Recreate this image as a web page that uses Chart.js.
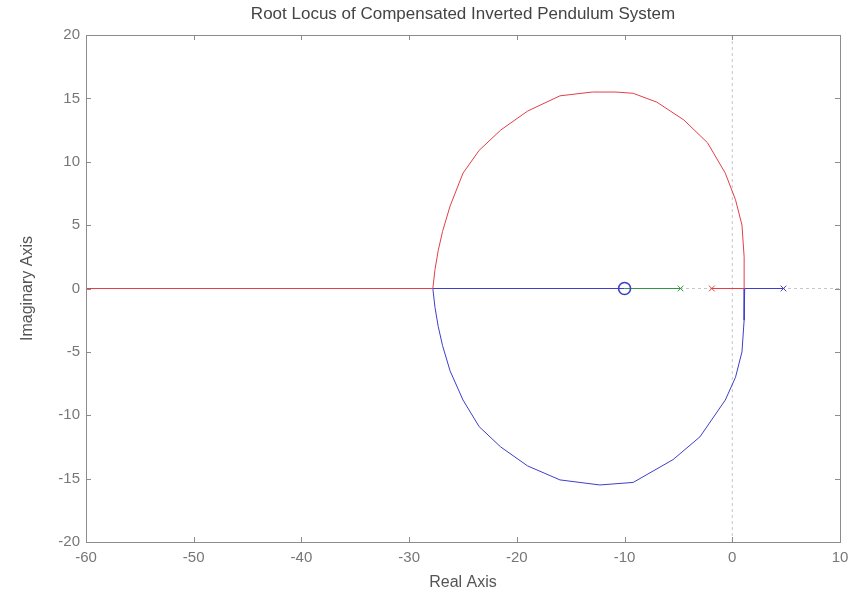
<!DOCTYPE html>
<html>
<head>
<meta charset="utf-8">
<title>Root Locus</title>
<script src="https://cdn.jsdelivr.net/npm/chart.js@4.4.0/dist/chart.umd.min.js"></script>
<style>
  html, body { margin: 0; padding: 0; background: #fff; }
  #lienzo { display: block; }
</style>
</head>
<body>
<canvas id="lienzo" width="857" height="598"></canvas>
<script>
// Rangos de los ejes
const ejeReal = [-60, 10];
const ejeImag = [-20, 20];
const pasoReal = 10;
const pasoImag = 5;

// Rama roja: sale del polo en -1.9, sube por el arco superior y se va a -inf
const rojaRe = [-1.9, 1.15, 1.1, 0.9, 0.3, -0.65, -2.3, -4.5, -7.0, -9.2, -10.8, -13.0, -16.0, -19.0, -21.5, -23.5, -25.0, -26.2, -26.9, -27.3, -27.6, -27.8, -60];
const rojaIm = [0, 0, 2.5, 5.0, 7.0, 9.1, 11.5, 13.3, 14.7, 15.4, 15.5, 15.5, 15.2, 14.0, 12.5, 10.9, 9.1, 6.5, 4.5, 3.0, 1.5, 0, 0];

// Rama azul: polo en 4.75, arco inferior y termina en el cero de -10
const azulRe = [4.75, 1.15, 1.1, 0.9, 0.3, -0.65, -3.0, -5.5, -9.2, -12.3, -16.0, -19.0, -21.5, -23.5, -25.0, -26.2, -26.9, -27.3, -27.6, -27.8, -10];
const azulIm = [0, 0, -2.5, -5.0, -7.0, -8.8, -11.7, -13.5, -15.3, -15.5, -15.1, -14.0, -12.5, -10.9, -8.8, -6.5, -4.5, -3.0, -1.5, 0, 0];

// Rama verde sobre el eje real
const verdeRe = [-4.8, -10];
const verdeIm = [0, 0];

// Polos (x) y cero (o)
const polosRe = [-4.8, -1.9, 4.75];
const polosIm = [0, 0, 0];
const cerosRe = [-10];
const cerosIm = [0];

const ROJO = 'rgb(228,62,70)';
const AZUL = 'rgb(62,62,200)';
const VERDE = 'rgb(50,150,70)';
const GRIS = '#8c8c8c';
const FUENTE = 'Liberation Sans, Arial, sans-serif';

const puntos = (xs, ys) => xs.map((x, i) => ({ x: x, y: ys[i] }));

function rama(datos, color) {
    return {
        data: datos,
        showLine: true,
        borderColor: color,
        borderWidth: 1,
        pointRadius: 0,
        tension: 0
    };
}

function ejePunteado(datos) {
    return {
        data: datos,
        showLine: true,
        borderColor: '#c4c6d2',
        borderWidth: 1,
        borderDash: [3, 3],
        pointRadius: 0
    };
}

// Marco completo con marcas hacia dentro y titulo
const marco = {
    id: 'marco',
    afterDatasetsDraw(chart) {
        const { ctx, chartArea: a, scales } = chart;
        ctx.save();
        ctx.strokeStyle = GRIS;
        ctx.lineWidth = 1;
        ctx.strokeRect(Math.round(a.left) + 0.5, Math.round(a.top) + 0.5,
            Math.round(a.right - a.left), Math.round(a.bottom - a.top));
        ctx.beginPath();
        scales.x.ticks.forEach(t => {
            const px = Math.round(scales.x.getPixelForValue(t.value)) + 0.5;
            ctx.moveTo(px, a.bottom); ctx.lineTo(px, a.bottom - 5);
            ctx.moveTo(px, a.top); ctx.lineTo(px, a.top + 5);
        });
        scales.y.ticks.forEach(t => {
            const py = Math.round(scales.y.getPixelForValue(t.value)) + 0.5;
            ctx.moveTo(a.left, py); ctx.lineTo(a.left + 5, py);
            ctx.moveTo(a.right, py); ctx.lineTo(a.right - 5, py);
        });
        ctx.stroke();

        ctx.fillStyle = '#444';
        ctx.font = '17px ' + FUENTE;
        ctx.textAlign = 'center';
        ctx.textBaseline = 'middle';
        ctx.fillText('Root Locus of Compensated Inverted Pendulum System', (a.left + a.right) / 2, 14);
        ctx.restore();
    }
};

const ctx = document.getElementById('lienzo').getContext('2d');
const grafica = new Chart(ctx, {
    type: 'scatter',
    data: {
        datasets: [
            {
                data: puntos(cerosRe, cerosIm),
                pointStyle: 'circle',
                pointRadius: 6,
                pointBorderColor: AZUL,
                pointBackgroundColor: 'rgba(0,0,0,0)',
                pointBorderWidth: 1.6
            },
            {
                data: puntos(polosRe, polosIm),
                pointStyle: 'crossRot',
                pointRadius: 4,
                pointBorderColor: [VERDE, ROJO, AZUL],
                pointBorderWidth: 1
            },
            rama(puntos(rojaRe, rojaIm), ROJO),
            rama(puntos(azulRe, azulIm), AZUL),
            rama(puntos(verdeRe, verdeIm), VERDE),
            ejePunteado(puntos(ejeReal, [0, 0])),
            ejePunteado(puntos([0, 0], ejeImag))
        ]
    },
    options: {
        responsive: false,
        animation: false,
        layout: { padding: { top: 35, right: 17, left: 0, bottom: 0 } },
        plugins: {
            legend: { display: false },
            tooltip: { enabled: false }
        },
        scales: {
            x: {
                type: 'linear',
                min: ejeReal[0],
                max: ejeReal[1],
                ticks: { stepSize: pasoReal, color: '#777', font: { family: FUENTE, size: 15 }, padding: 7 },
                grid: { display: false, drawTicks: false },
                border: { display: false },
                title: { display: true, text: 'Real Axis', color: '#555', font: { family: FUENTE, size: 16 }, padding: { top: 0, bottom: 6 } },
                afterFit: s => { s.height = 56; }
            },
            y: {
                type: 'linear',
                min: ejeImag[0],
                max: ejeImag[1],
                ticks: { stepSize: pasoImag, color: '#777', font: { family: FUENTE, size: 15 }, padding: 6 },
                grid: { display: false, drawTicks: false },
                border: { display: false },
                title: { display: true, text: 'Imaginary Axis', color: '#555', font: { family: FUENTE, size: 16 }, padding: { top: 18, bottom: 0 } },
                afterFit: s => { s.width = 86; }
            }
        }
    },
    plugins: [marco]
});
</script>
</body>
</html>
